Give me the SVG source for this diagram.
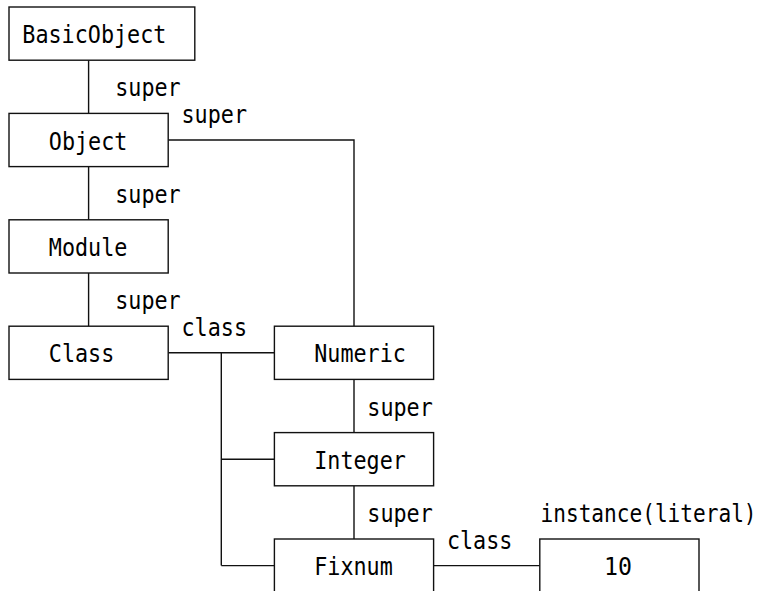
<svg xmlns="http://www.w3.org/2000/svg" width="762" height="591" viewBox="0 0 762 591">
<style>
.box{fill:#fff;stroke:#111;stroke-width:1.4}
.ln{fill:none;stroke:#111;stroke-width:1.4}
text{font-family:"DejaVu Sans Mono","Liberation Mono",monospace;font-size:24px;fill:#000}
</style>
<rect width="762" height="591" fill="#fff"/>
<g id="connectors">
<path class="ln" d="M88.6,60.2V113.4M88.6,166.6V219.8M88.6,273V326.2"/>
<path class="ln" d="M168.2,140H354V326.2"/>
<path class="ln" d="M168.2,352.8H274.4M221.3,352.8V565.6M221.3,459.2H274.4M221.3,565.6H274.4"/>
<path class="ln" d="M354,379.4V432.6M354,485.8V539"/>
<path class="ln" d="M433.6,565.6H539.8"/>
</g>
<g id="labels">
<text x="115.2" y="96.3" textLength="65.5" lengthAdjust="spacingAndGlyphs">super</text>
<text x="181.5" y="122.9" textLength="65.5" lengthAdjust="spacingAndGlyphs">super</text>
<text x="115.2" y="202.7" textLength="65.5" lengthAdjust="spacingAndGlyphs">super</text>
<text x="115.2" y="309.1" textLength="65.5" lengthAdjust="spacingAndGlyphs">super</text>
<text x="181.5" y="335.7" textLength="65.5" lengthAdjust="spacingAndGlyphs">class</text>
<text x="367.3" y="415.5" textLength="65.5" lengthAdjust="spacingAndGlyphs">super</text>
<text x="367.3" y="521.9" textLength="65.5" lengthAdjust="spacingAndGlyphs">super</text>
<text transform="translate(540.5,521.9) scale(0.88,1)" x="0" y="0">instance(literal)</text>
<text x="446.9" y="548.5" textLength="65.5" lengthAdjust="spacingAndGlyphs">class</text>
</g>
<g id="BasicObject"><rect class="box" x="9" y="7" width="185.8" height="53.2"/><text x="22.3" y="43.1" textLength="144.1" lengthAdjust="spacingAndGlyphs">BasicObject</text></g>
<g id="Object"><rect class="box" x="9" y="113.4" width="159.2" height="53.2"/><text x="48.8" y="149.5" textLength="78.6" lengthAdjust="spacingAndGlyphs">Object</text></g>
<g id="Module"><rect class="box" x="9" y="219.8" width="159.2" height="53.2"/><text x="48.8" y="255.9" textLength="78.6" lengthAdjust="spacingAndGlyphs">Module</text></g>
<g id="Class"><rect class="box" x="9" y="326.2" width="159.2" height="53.2"/><text x="48.8" y="362.3" textLength="65.5" lengthAdjust="spacingAndGlyphs">Class</text></g>
<g id="Numeric"><rect class="box" x="274.4" y="326.2" width="159.2" height="53.2"/><text x="314.2" y="362.3" textLength="91.7" lengthAdjust="spacingAndGlyphs">Numeric</text></g>
<g id="Integer"><rect class="box" x="274.4" y="432.6" width="159.2" height="53.2"/><text x="314.2" y="468.7" textLength="91.7" lengthAdjust="spacingAndGlyphs">Integer</text></g>
<g id="Fixnum"><rect class="box" x="274.4" y="539" width="159.2" height="53.2"/><text x="314.2" y="575.1" textLength="78.6" lengthAdjust="spacingAndGlyphs">Fixnum</text></g>
<g id="literal10"><rect class="box" x="539.8" y="539" width="159.2" height="53.2"/><text x="604" y="575.1" textLength="28" lengthAdjust="spacingAndGlyphs">10</text></g>
</svg>
